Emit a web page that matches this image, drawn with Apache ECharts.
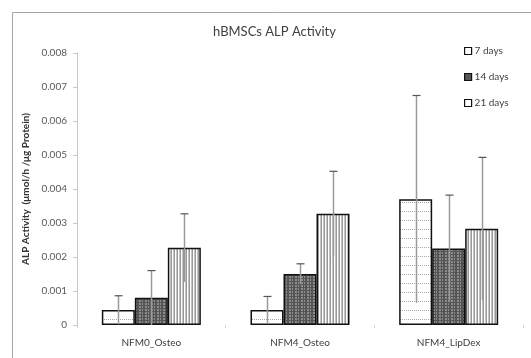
<!DOCTYPE html>
<html>
<head>
<meta charset="utf-8">
<script src="https://cdn.jsdelivr.net/npm/echarts@6/dist/echarts.min.js"></script>
<style>html,body{margin:0;padding:0;background:#fff}#c{width:531px;height:358px}</style>
</head>
<body>
<div id="c"></div>
<script>
var categories = ['NFM0_Osteo', 'NFM4_Osteo', 'NFM4_LipDex'];
var seriesNames = ['7 days', '14 days', '21 days'];
var values7 = [0.00044, 0.00044, 0.0037];
var values14 = [0.0008, 0.0015, 0.00225];
var values21 = [0.00227, 0.00327, 0.00283];
var err7 = [0.00042, 0.0004, 0.00305];
var err14 = [0.0008, 0.0003, 0.00157];
var err21 = [0.001, 0.00125, 0.0021];
var yTicks = [0, 0.001, 0.002, 0.003, 0.004, 0.005, 0.006, 0.007, 0.008];

function makePattern(w, h, draw) {
  var c = document.createElement('canvas');
  c.width = w; c.height = h;
  var ctx = c.getContext('2d');
  draw(ctx);
  return { image: c, repeat: 'repeat' };
}
var pat7 = makePattern(6, 9, function (ctx) {
  ctx.fillStyle = '#fff'; ctx.fillRect(0, 0, 6, 9);
  ctx.fillStyle = '#a8a8a8';
  ctx.fillRect(0, 4, 1, 1);
  ctx.fillRect(2, 4, 1, 1);
  ctx.fillRect(4, 4, 1, 1);
});
var pat14 = makePattern(6, 6, function (ctx) {
  ctx.fillStyle = '#555'; ctx.fillRect(0, 0, 6, 6);
  ctx.fillStyle = '#8c8c8c';
  ctx.fillRect(1, 0, 2, 2);
  ctx.fillRect(4, 0, 1, 2);
  ctx.fillRect(1, 3, 2, 2);
  ctx.fillRect(4, 3, 1, 2);
});
var pat21 = makePattern(3, 4, function (ctx) {
  ctx.fillStyle = '#fff'; ctx.fillRect(0, 0, 3, 4);
  ctx.fillStyle = '#999';
  ctx.fillRect(0, 0, 1, 4);
  ctx.fillStyle = '#c4c4c4';
  ctx.fillRect(2, 0, 1, 4);
});

var barW = 33;
var vals = [values7, values14, values21];
var errs = [err7, err14, err21];
var pats = [pat7, pat14, pat21];

function errSeries(k) {
  return {
    type: 'custom',
    name: seriesNames[k] + ' err',
    z: 5,
    silent: true,
    data: categories.map(function (c, i) { return [i, vals[k][i], errs[k][i]]; }),
    renderItem: function (params, api) {
      var i = api.value(0), v = api.value(1), e = api.value(2);
      var off = (k - 1) * barW;
      var top = api.coord([i, v + e]);
      var bot = api.coord([i, Math.max(v - e, 0)]);
      var x = Math.round(top[0] + off) + 0.5;
      return {
        type: 'group',
        children: [
          { type: 'line', shape: { x1: x, y1: top[1], x2: x, y2: bot[1] }, style: { stroke: '#9a9a9a', lineWidth: 1.5 } },
          { type: 'line', shape: { x1: x - 4, y1: top[1], x2: x + 4, y2: top[1] }, style: { stroke: '#555', lineWidth: 1.2 } }
        ]
      };
    }
  };
}

var series = [];
for (var k = 0; k < 3; k++) {
  series.push({
    type: 'bar',
    name: seriesNames[k],
    data: vals[k],
    barWidth: barW,
    barGap: '0%',
    itemStyle: { color: pats[k], borderColor: '#111', borderWidth: 1.5 }
  });
}
for (var k2 = 0; k2 < 3; k2++) series.push(errSeries(k2));

var chart = echarts.init(document.getElementById('c'), null, { renderer: 'canvas' });
chart.setOption({
  animation: false,
  backgroundColor: '#fff',
  textStyle: { fontFamily: 'Lato' },
  graphic: [{
    type: 'rect', shape: { x: 12.5, y: 12.5, width: 540, height: 360 },
    style: { fill: null, stroke: '#a6a6a6', lineWidth: 1 }, silent: true, z: -1
  }],
  title: {
    text: 'hBMSCs ALP Activity', left: 208, top: 20,
    textStyle: { fontFamily: 'Lato', fontSize: 13, fontWeight: 'normal', color: '#404040' }
  },
  legend: {
    orient: 'vertical', left: 459, top: 41, itemGap: 16,
    itemWidth: 7, itemHeight: 7,
    data: seriesNames.map(function (n, i) {
      return { name: n, icon: 'rect', itemStyle: { color: i === 1 ? '#555' : '#fff', borderColor: '#111', borderWidth: 1.2 } };
    }),
    textStyle: { fontFamily: 'Lato', fontSize: 10, color: '#404040', padding: [0, 0, 0, -2] }
  },
  grid: { left: 77, right: 8, top: 53, bottom: 33, containLabel: false },
  xAxis: {
    type: 'category', data: categories,
    axisLine: { show: false },
    axisTick: { show: true, length: 3, lineStyle: { color: '#d0d0d0' } },
    axisLabel: { fontFamily: 'Lato', fontSize: 10, color: '#404040', margin: 13 }
  },
  yAxis: {
    type: 'value', min: 0, max: 0.008, interval: 0.001,
    name: 'ALP Activity  (μmol/h /μg Protein)', nameLocation: 'middle', nameGap: 44,
    nameTextStyle: { fontFamily: 'Lato', fontSize: 10, fontWeight: 'bold', color: '#333' },
    axisLine: { show: true, lineStyle: { color: '#c8c8c8', width: 1 } },
    axisTick: { show: true, length: 4, lineStyle: { color: '#c8c8c8' } },
    splitLine: { show: false },
    axisLabel: {
      fontFamily: 'Lato', fontSize: 10, color: '#595959', margin: 10,
      formatter: function (v) {
        var t = yTicks.filter(function (y) { return Math.abs(y - v) < 1e-9; })[0];
        return t === 0 ? '0' : (t !== undefined ? t.toFixed(3) : '');
      }
    }
  },
  series: series
});
</script>
</body>
</html>
